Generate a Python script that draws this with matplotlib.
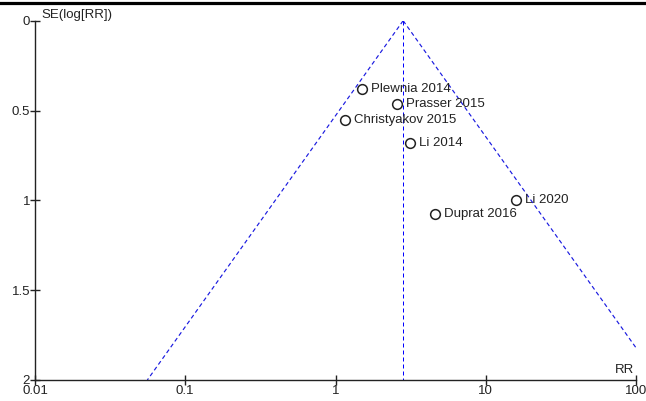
import numpy as np
import matplotlib
matplotlib.use("Agg")
import matplotlib.pyplot as plt
from matplotlib.lines import Line2D

plt.rcParams['font.family'] = ['Liberation Sans', 'DejaVu Sans']

# study data
studies = ['Plewnia 2014', 'Prasser 2015', 'Christyakov 2015', 'Li 2014', 'Li 2020', 'Duprat 2016']
rr = [1.49, 2.56, 1.16, 3.14, 15.9, 4.57]
se = [0.38, 0.465, 0.555, 0.68, 1.0, 1.075]
pooled_rr = 2.82

x_ticks = [0.01, 0.1, 1, 10, 100]
x_tick_labels = ['0.01', '0.1', '1', '10', '100']
y_ticks = [0, 0.5, 1, 1.5, 2]
y_tick_labels = ['0', '0.5', '1', '1.5', '2']

fs = 9.5
dark = '#222222'
blue = '#1a1ae0'

fig = plt.figure(figsize=(6.46, 4.01), dpi=100)
ax = fig.add_axes([35 / 646, 21 / 401, 601 / 646, 359.3 / 401])

ax.set_xscale('log')
ax.set_xlim(0.01, 100)
ax.set_ylim(2, 0)

# funnel (95% pseudo confidence limits)
se_line = np.array([0, 2])
dash = (0, (3.5, 2.5))
ax.plot(pooled_rr * np.exp(-1.96 * se_line), se_line, ls=dash, color=blue, lw=0.85)
ax.plot(pooled_rr * np.exp(1.96 * se_line), se_line, ls=dash, color=blue, lw=0.85)
ax.plot([pooled_rr, pooled_rr], [0, 2], ls=(0, (4, 3)), color='#0000ff', lw=0.72,
        dash_capstyle='butt')

ax.plot(rr, se, 'o', mfc='white', mec=dark, mew=1.1, ms=7, ls='none', zorder=3)
for name, x, y in zip(studies, rr, se):
    ax.annotate(name, (x, y), xytext=(6.5, 0), textcoords='offset points',
                va='center', ha='left', fontsize=fs, color=dark)

for s in ['top', 'right']:
    ax.spines[s].set_visible(False)
for s in ['left', 'bottom']:
    ax.spines[s].set_color(dark)
    ax.spines[s].set_linewidth(1.0)

ax.set_xticks(x_ticks)
ax.set_xticklabels(x_tick_labels)
ax.set_yticks(y_ticks)
ax.set_yticklabels(y_tick_labels)
ax.minorticks_off()
ax.tick_params(direction='inout', length=7, width=1.0, color=dark,
               labelsize=fs, labelcolor=dark, pad=0)

ax.text(0.01, 1.0, 'SE(log[RR])', transform=ax.transAxes, ha='left', va='bottom',
        fontsize=fs, color=dark)
ax.text(0.997, 0.01, 'RR', transform=ax.transAxes, ha='right', va='bottom',
        fontsize=fs, color=dark)

fig.add_artist(Line2D([0, 1], [1 - 3 / 401, 1 - 3 / 401], transform=fig.transFigure,
                      color='black', lw=2.3))

fig.savefig('out.png', dpi=100)
